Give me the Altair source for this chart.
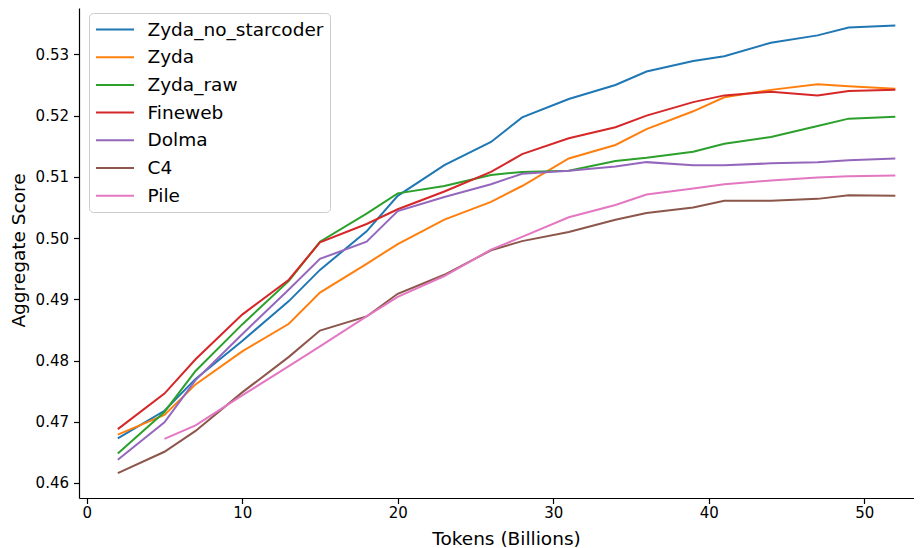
import altair as alt
import pandas as pd

tokens = [2, 5, 7, 10, 13, 15, 18, 20, 23, 26, 28, 31, 34, 36, 39, 41, 44, 47, 49, 52]

series_names = ["Zyda_no_starcoder", "Zyda", "Zyda_raw", "Fineweb", "Dolma", "C4", "Pile"]
series_colors = ["#1f77b4", "#ff7f0e", "#2ca02c", "#d62728", "#9467bd", "#8c564b", "#e377c2"]

zyda_no_starcoder = [0.4673, 0.4718, 0.4770, 0.4832, 0.4897, 0.4948, 0.5011, 0.5069, 0.5119, 0.5157,
                     0.5197, 0.5227, 0.5250, 0.5272, 0.5289, 0.5297, 0.5319, 0.5331, 0.5344, 0.5347]
zyda = [0.4679, 0.4711, 0.4761, 0.4815, 0.4860, 0.4911, 0.4958, 0.4990, 0.5030, 0.5059,
        0.5085, 0.5130, 0.5152, 0.5178, 0.5207, 0.5230, 0.5242, 0.5251, 0.5248, 0.5244]
zyda_raw = [0.4648, 0.4716, 0.4783, 0.4859, 0.4930, 0.4994, 0.5040, 0.5073, 0.5085, 0.5103,
            0.5108, 0.5110, 0.5126, 0.5131, 0.5141, 0.5154, 0.5165, 0.5183, 0.5195, 0.5198]
fineweb = [0.4688, 0.4746, 0.4802, 0.4875, 0.4932, 0.4993, 0.5023, 0.5047, 0.5076, 0.5108,
           0.5137, 0.5163, 0.5181, 0.5200, 0.5222, 0.5233, 0.5239, 0.5233, 0.5240, 0.5242]
dolma = [0.4638, 0.4699, 0.4768, 0.4843, 0.4916, 0.4966, 0.4994, 0.5044, 0.5067, 0.5088,
         0.5105, 0.5110, 0.5117, 0.5124, 0.5119, 0.5119, 0.5122, 0.5124, 0.5127, 0.5130]
c4 = [0.4616, 0.4651, 0.4685, 0.4748, 0.4806, 0.4849, 0.4872, 0.4909, 0.4940, 0.4980,
      0.4995, 0.5010, 0.5030, 0.5041, 0.5050, 0.5061, 0.5061, 0.5064, 0.5070, 0.5069]
pile = [None, 0.4672, 0.4694, 0.4743, 0.4791, 0.4823, 0.4872, 0.4904, 0.4938, 0.4981,
        0.5002, 0.5034, 0.5054, 0.5071, 0.5081, 0.5088, 0.5094, 0.5099, 0.5101, 0.5102]

x_ticks = [0, 10, 20, 30, 40, 50]
y_ticks = [0.46, 0.47, 0.48, 0.49, 0.50, 0.51, 0.52, 0.53]

all_series = [zyda_no_starcoder, zyda, zyda_raw, fineweb, dolma, c4, pile]
rows = []
for name, vals in zip(series_names, all_series):
    for t, v in zip(tokens, vals):
        if v is not None:
            rows.append({"Tokens": t, "Score": v, "Dataset": name})
df = pd.DataFrame(rows)

FONT = "DejaVu Sans"

chart = alt.Chart(df).mark_line(strokeWidth=2, clip=True).encode(
    x=alt.X("Tokens:Q",
            scale=alt.Scale(domain=[-0.495, 53.2], nice=False, zero=False),
            axis=alt.Axis(title="Tokens (Billions)", values=x_ticks, format="d",
                          grid=False, tickSize=5.5, labelPadding=2,
                          titleX=427, titleY=46, titleBaseline="alphabetic",
                          titleAlign="center", titleAnchor="start")),
    y=alt.Y("Score:Q",
            scale=alt.Scale(domain=[0.45755, 0.53757], nice=False, zero=False),
            axis=alt.Axis(title="Aggregate Score", values=y_ticks, format=".2f",
                          grid=False, tickSize=5.5, labelPadding=5,
                          titleX=-55, titleY=242, titleBaseline="alphabetic",
                          titleAlign="center", titleAngle=270, titleAnchor="start")),
    color=alt.Color("Dataset:N",
                    scale=alt.Scale(domain=series_names, range=series_colors),
                    sort=series_names,
                    legend=alt.Legend(title=None, orient="none", legendX=10, legendY=5,
                                      symbolType="M-2,0H2", symbolStrokeWidth=2,
                                      symbolSize=361, symbolOffset=9.5,
                                      symbolFillColor="transparent",
                                      labelFontSize=18.5, labelFont=FONT,
                                      labelColor="black", labelLimit=0, labelOffset=22,
                                      padding=6, rowPadding=7.7, strokeColor="#cccccc",
                                      fillColor="white", cornerRadius=4)),
    detail="Dataset:N",
).properties(
    width=835,
    height=490,
    padding={"left": 71, "top": 0, "right": 0, "bottom": 50},
    autosize="none",
).configure_view(
    stroke=None
).configure_axis(
    labelFont=FONT, titleFont=FONT, labelFontSize=15, titleFontSize=18.5,
    titleFontWeight="normal", labelColor="black", titleColor="black",
    domainColor="black", tickColor="black", domainWidth=1.2, tickWidth=1.2,
)

chart.save("out.html", embed_options={"renderer": "svg", "actions": False})
